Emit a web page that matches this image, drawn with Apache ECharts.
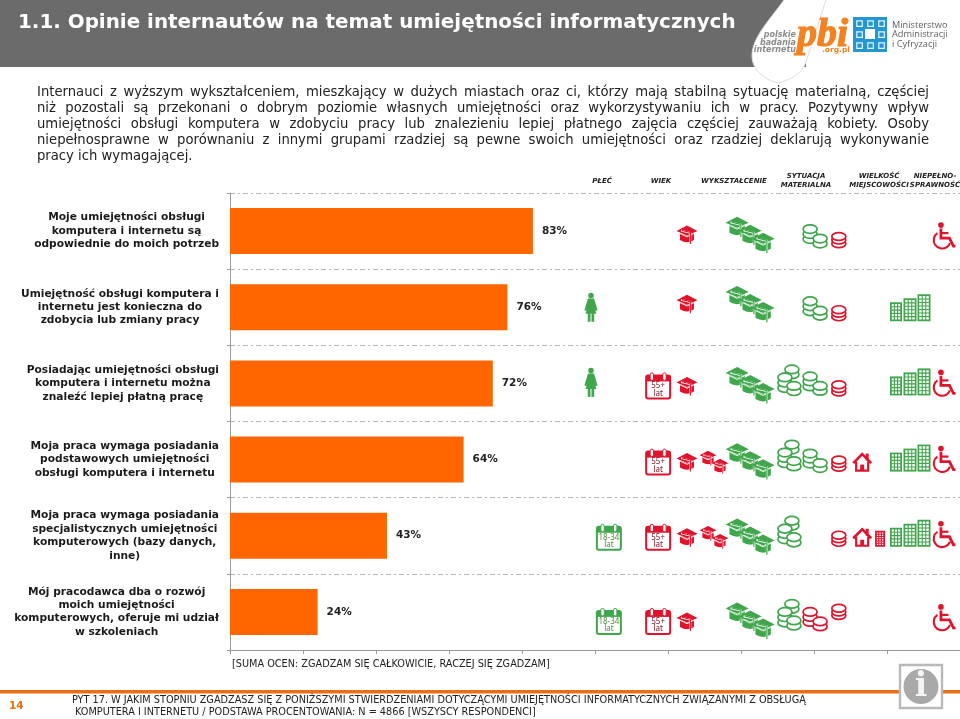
<!DOCTYPE html>
<html><head><meta charset="utf-8">
<style>html,body{margin:0;padding:0;background:#fff}#c{width:960px;height:719px}</style>
<script src="https://cdn.jsdelivr.net/npm/echarts@6/dist/echarts.min.js"></script>
</head><body><div id="c"></div>
<script>
const categories = [
 "Moje umiejętności obsługi\nkomputera i internetu są\nodpowiednie do moich potrzeb",
 "Umiejętność obsługi komputera i\ninternetu jest konieczna do\nzdobycia lub zmiany pracy",
 "Posiadając umiejętności obsługi\nkomputera i internetu można\nznaleźć lepiej płatną pracę",
 "Moja praca wymaga posiadania\npodstawowych umiejętności\nobsługi komputera i internetu",
 "Moja praca wymaga posiadania\nspecjalistycznych umiejętności\nkomputerowych (bazy danych,\ninne)",
 "Mój pracodawca dba o rozwój\nmoich umiejętności\nkomputerowych, oferuje mi udział\nw szkoleniach"
];
const values = [83, 76, 72, 64, 43, 24];
const rowIcons = [
 ["capR","capsG","coins2G","coin1","wheel"],
 ["woman","capR","capsG","coins2G","coin1","bldgs"],
 ["woman","cal55","capR","capsG","coins3","coins2G","coin1","bldgs","wheel"],
 ["cal55","capR","capsR","capsG","coins3","coins2G","coin1","house","bldgs","wheel"],
 ["cal18","cal55","capR","capsR","capsG","coins3","coin1","house","bldgS","bldgs","wheel"],
 ["cal18","cal55","capR","capsG","coins3","coins2R","coin1","wheel"]
];
const columnHeads = ["PŁEĆ","WIEK","WYKSZTAŁCENIE","SYTUACJA\nMATERIALNA","WIELKOŚĆ\nMIEJSCOWOŚCI","NIEPEŁNO-\nSPRAWNOŚĆ"];
const titleText = "1.1. Opinie internautów na temat umiejętności informatycznych";
const introLines = [
 "Internauci z wyższym wykształceniem, mieszkający w dużych miastach oraz ci, którzy mają stabilną sytuację materialną, częściej",
 "niż pozostali są przekonani o dobrym poziomie własnych umiejętności oraz wykorzystywaniu ich w pracy. Pozytywny wpływ",
 "umiejętności obsługi komputera w zdobyciu pracy lub znalezieniu lepiej płatnego zajęcia częściej zauważają kobiety. Osoby",
 "niepełnosprawne w porównaniu z innymi grupami rzadziej są pewne swoich umiejętności oraz rzadziej deklarują wykonywanie",
 "pracy ich wymagającej."
];
const scaleNote = "[SUMA OCEN: ZGADZAM SIĘ CAŁKOWICIE, RACZEJ SIĘ ZGADZAM]";
const footLines = [
 "PYT 17. W JAKIM STOPNIU ZGADZASZ SIĘ Z PONIŻSZYMI STWIERDZENIAMI DOTYCZĄCYMI UMIEJĘTNOŚCI INFORMATYCZNYCH ZWIĄZANYMI Z OBSŁUGĄ",
 "KOMPUTERA I INTERNETU / PODSTAWA PROCENTOWANIA: N = 4866 [WSZYSCY RESPONDENCI]"
];

/* ---------- layout tables ---------- */
const RED='#e0132c', GREEN='#3fa64c', ORANGE='#ff6600', SANS='"DejaVu Sans"', COND='"DejaVu Sans Condensed","DejaVu Sans"';
const slotX = {woman:98.9,cal18:103.8,cal55:117.3,capR:125.2,capsR:132.6,capsG:142.5,coins3:153.4,
 coins2G:160.3,coins2R:160.3,coin1:166.8,house:173.2,bldgS:178.1,bldgs:186.3,wheel:195.6};
const nudge = {woman:[0,0,-1,0,0,0],cal18:[0,0,0,0,2,10],cal55:[0,0,3,3,2,10],capR:[3,-4,2,2,1,9],
 capsR:[0,0,0,2,1,0],capsG:[3,-4,1,1,0,8],coins3:[0,0,-1,-2,-2,5],coins2G:[4,0,-1,0,0,0],coins2R:[0,0,0,0,0,6],
 coin1:[9,6,5,4,3,0],house:[0,0,0,3,2,0],bldgS:[0,0,0,0,3,0],bldgs:[0,1,-1,-1,-2,0],wheel:[5,0,0,0,-1,6]};

/* ---------- icon drawing ---------- */
const P=(d,fill,stroke,lw)=>({type:'path',shape:{pathData:d},style:{fill:fill||'none',stroke:stroke||'none',lineWidth:lw||0}});
const ell=(x,y,a,b)=>`M${x-a} ${y}A${a} ${b} 0 1 1 ${x+a} ${y}A${a} ${b} 0 1 1 ${x-a} ${y}Z`;
const rectP=(a,b,c,d)=>`M${a} ${b}L${c} ${b}L${c} ${d}L${a} ${d}Z`;
function cap(c,x,y,s){
  const t=(px,py)=>`${x+px*s} ${y+py*s}`;
  return [
   P(`M${t(-7,-1)}L${t(0,2)}L${t(7,-1)}L${t(7,6)}Q${t(0,10.5)} ${t(-7,6)}Z`,c),
   P(`M${t(-7,-0.6)}L${t(0,2.8)}L${t(7,-0.6)}`,'none','#fff',0.9),
   P(`M${t(-10.5,-3)}L${t(0,-8.5)}L${t(10.5,-3)}L${t(0,1.5)}Z`,c),
   P(`M${t(-6,-3.4)}L${t(3.4,-1.2)}L${t(3.4,9.5)}`,'none','#fff',1.5*s+0.3),
   P(`M${t(-5,-3.6)}L${t(3.4,-1.6)}L${t(3.4,10)}`,'none',c,1.1*s)
  ];
}
function coin(c,x,y,n,step,ry){
  let out=[];
  const sp=step||5, b=ry||4.3;
  for(let i=n-1;i>=0;i--) out.push(P(ell(x,y+i*sp,7,b),'#fff',c,1.7));
  return out;
}
function bld(c,x0,x1,top,bot,rows){
  const out=[P(rectP(x0,top,x1,bot),c)];
  const cols=3, w=(x1-x0-2.4)/cols, h=(bot-top-2.4)/rows; let d='';
  for(let i=0;i<cols;i++)for(let j=0;j<rows;j++){
    const a=x0+1.2+i*w+0.55,b=top+1.2+j*h+0.55; d+=rectP(a,b,a+w-1.1,b+h-1.1);
  }
  out.push(P(d,'#fff'));
  return out;
}
function cal(c,l1){
  return [
   {type:'rect',shape:{x:-12,y:-11,width:24,height:23,r:2},style:{fill:'#fff',stroke:c,lineWidth:2}},
   P(rectP(-12,-11,12,-5),c),
   {type:'rect',shape:{x:-8,y:-13.5,width:3.4,height:7.5,r:1.7},style:{fill:'#fff',stroke:c,lineWidth:1}},
   {type:'rect',shape:{x:4.6,y:-13.5,width:3.4,height:7.5,r:1.7},style:{fill:'#fff',stroke:c,lineWidth:1}},
   {type:'text',style:{text:l1,x:0,y:-0.5,align:'center',verticalAlign:'middle',fill:c==RED?'#7a1020':'#4d8a3f',font:'8px "Noto Sans"'}},
   {type:'text',style:{text:'lat',x:0,y:7,align:'center',verticalAlign:'middle',fill:c==RED?'#7a1020':'#4d8a3f',font:'8px "Noto Sans"'}}
  ];
}
const iconBuilders = {
 capR:()=>cap(RED,0,0,1),
 capsR:()=>[...cap(RED,-6,-4,.8),...cap(RED,6,4,.8)],
 capsG:()=>[...cap(GREEN,-13,-8,1.1),...cap(GREEN,0,0,1.1),...cap(GREEN,13,8,1.1)],
 coin1:()=>coin(RED,0,-3.6,3,3.6,3.9),
 coins2G:()=>[...coin(GREEN,-5,-6,3),...coin(GREEN,5,3.5,2)],
 coins2R:()=>[...coin(RED,-5,-6,3),...coin(RED,5,3.5,2)],
 coins3:()=>[...coin(GREEN,2,-13,2),...coin(GREEN,-5,-5,3,5.3),...coin(GREEN,4,3.5,2,5.3)],
 woman:()=>[
   {type:'circle',shape:{cx:0,cy:-11.8,r:2.8},style:{fill:GREEN}},
   P('M-3 -8.8L3 -8.8L6.6 3L4.6 3.6L3.2 -1L5.4 6.5L-5.4 6.5L-3.2 -1L-4.6 3.6L-6.6 3Z',GREEN),
   P(rectP(-3.2,6,-0.5,14.5),GREEN),P(rectP(0.5,6,3.2,14.5),GREEN)],
 cal18:()=>cal(GREEN,'18-34'),
 cal55:()=>cal(RED,'55+'),
 house:()=>[
   P(rectP(3.5,-9,6.5,-2),RED),
   P('M-6 -1L-6 8L6 8L6 -1',"#fff",RED,2.2),
   P('M-9 0.5L0 -8.5L9 0.5','none',RED,2.6),
   P(rectP(-2,2,2,8),RED)],
 bldgS:()=>bld(RED,-5,5,-8,8,6),
 bldgs:()=>[...bld(GREEN,-20,-8,-6,13,5),...bld(GREEN,-6.5,6.5,-10,13,6),...bld(GREEN,7.5,20.5,-14,13,7)],
 wheel:()=>[
   {type:'circle',shape:{cx:-3,cy:-11,r:2.8},style:{fill:RED}},
   P('M-3 -7.5L-3 2L5.5 2L9.5 10L11.5 10','none',RED,2.8),
   P('M-3 -3L4.5 -3','none',RED,2.2),
   P('M-6.5 -3A8.4 8.4 0 1 0 6 7','none',RED,2.1)]
};
const iconData=[];
rowIcons.forEach((names,r)=>names.forEach(n=>iconData.push([slotX[n],r,n])));

/* ---------- page furniture ---------- */
echarts.graphic.registerShape('headerCut',echarts.graphic.extendPath('M784 0C768 22 752 38 752 56C752 68 762 79 778 83C790 80 802 74 806 62L806 72L960 72L960 0Z',{}));
echarts.graphic.registerShape('headerEdge',echarts.graphic.extendPath('M784 0C768 22 752 38 752 56C752 68 762 79 778 83C790 80 802 74 806 62L826 0',{}));
const g=[];
const txt=(t,x,y,font,fill,align,vA)=>({type:'text',silent:true,x,y,style:{text:t,font,fill,align:align||'left',verticalAlign:vA||'middle'}});
g.push({type:'rect',silent:true,shape:{x:0,y:0,width:960,height:67},style:{fill:'#6b6b6b'}});
g.push({type:'headerCut',silent:true,style:{fill:'#fff'}});
g.push({type:'headerEdge',silent:true,style:{fill:'none',stroke:'#dcdcdc',lineWidth:1}});
g.push(txt(titleText,18,23,'bold 19.9px '+SANS,'#fff'));
['polskie','badania','internetu'].forEach((t,i)=>g.push(txt(t,796,35+i*7.6,'italic bold 8px '+SANS,'#8c8c8c','right')));
g.push({type:'text',silent:true,x:797,y:36,style:{text:'pbi',font:'italic bold 40px "Liberation Serif"',fill:'#f58220',stroke:'#f58220',lineWidth:1.2,align:'left',verticalAlign:'middle'}});
g.push(txt('.org.pl',822,50,'bold 7.5px '+SANS,'#f58220'));
g.push({type:'rect',silent:true,shape:{x:853,y:17,width:34,height:35},style:{fill:'#2297d3'}});
g.push({type:'rect',silent:true,shape:{x:865,y:29,width:10,height:10},style:{fill:'#fff'}});
[[856,20],[867,20],[878,20],[856,31],[878,31],[856,42],[867,42],[878,42]].forEach(p=>
  g.push({type:'rect',silent:true,shape:{x:p[0]+.8,y:p[1]+.8,width:5.5,height:5.5},style:{fill:'none',stroke:'#e6f4fb',lineWidth:1.2}}));
['Ministerstwo','Administracji','i Cyfryzacji'].forEach((t,i)=>g.push(txt(t,892,25+i*9.7,'9.2px "Open Sans"','#5f5f5f')));

/* justified intro paragraph */
const INTRO_FONT='13.2px '+SANS, LEFT=37, RIGHT=929;
const mc=document.createElement('canvas').getContext('2d'); mc.font=INTRO_FONT;
introLines.forEach((line,i)=>{
  const y=93+i*16;
  if(i===introLines.length-1){g.push(txt(line,LEFT,y,INTRO_FONT,'#222'));return;}
  const words=line.split(' ');
  const total=words.reduce((s,w)=>s+mc.measureText(w).width,0);
  const gap=(RIGHT-LEFT-total)/(words.length-1);
  let x=LEFT;
  words.forEach(w=>{g.push(txt(w,x,y,INTRO_FONT,'#222'));x+=mc.measureText(w).width+gap;});
});

/* column headers */
const headX=[602,661,734,806,879,935];
columnHeads.forEach((t,i)=>g.push({type:'text',silent:true,x:headX[i],y:181,style:{text:t,font:'italic bold 7px '+SANS,fill:'#222',align:'center',verticalAlign:'middle',lineHeight:9}}));

g.push(txt(scaleNote,232,664,'10.8px '+COND,'#222'));
g.push({type:'rect',silent:true,shape:{x:0,y:690,width:960,height:3.4},style:{fill:'#e96f16'}});
g.push(txt('14',9,706,'bold 10.5px '+SANS,'#e96f16'));
g.push(txt(footLines[0],72,700,'10.8px '+COND,'#222'));
g.push(txt(footLines[1],75,712,'10.8px '+COND,'#222'));
g.push({type:'rect',silent:true,shape:{x:900,y:665,width:42,height:43},style:{fill:'#fff',stroke:'#b9b9b9',lineWidth:2.4}});
g.push({type:'circle',silent:true,shape:{cx:921,cy:686.5,r:17.5},style:{fill:'#a9a9a9'}});
g.push(txt('i',921,687,'bold 33px "DejaVu Serif"','#f4f4f4','center'));

/* ---------- chart ---------- */
const chart=echarts.init(document.getElementById('c'),null,{width:960,height:719});
chart.setOption({
 animation:false,
 graphic:{elements:g},
 grid:{left:230,right:0,top:193,height:457,containLabel:false},
 xAxis:{type:'value',min:0,max:200,interval:20,
   axisLabel:{show:false},splitLine:{show:false},
   axisLine:{show:true,lineStyle:{color:'#9a9a9a',width:1}},
   axisTick:{show:true,length:4,lineStyle:{color:'#9a9a9a'}}},
 yAxis:{type:'category',inverse:true,data:categories,
   axisLine:{show:true,onZero:false,lineStyle:{color:'#9a9a9a',width:1}},
   axisTick:{show:true,length:3,alignWithLabel:false,lineStyle:{color:'#9a9a9a'}},
   splitLine:{show:true,lineStyle:{color:'#b5b5b5',width:1,type:[5,3,2,3]}},
   axisLabel:{align:'right',margin:11,interval:0,
     formatter:v=>v.split('\n').map(l=>`{c|${l}}`).join('\n'),
     rich:{c:{align:'center',color:'#1a1a1a',fontFamily:SANS,fontWeight:'bold',fontSize:10.65,lineHeight:13.4}}}},
 series:[
  {type:'bar',data:values,barWidth:46,itemStyle:{color:ORANGE},silent:true,
   label:{show:true,position:'right',distance:9,formatter:p=>p.value+'%',fontFamily:SANS,fontWeight:'bold',fontSize:10.5,color:'#222'}},
  {type:'custom',data:iconData,silent:true,clip:false,encode:{x:0,y:1},z:5,
   renderItem:(params,api)=>{
     const name=iconData[params.dataIndex][2], r=api.value(1);
     const c=api.coord([api.value(0),r]);
     return {type:'group',x:c[0],y:c[1]+nudge[name][r],children:iconBuilders[name]()};
   }}
 ]
});
</script></body></html>
